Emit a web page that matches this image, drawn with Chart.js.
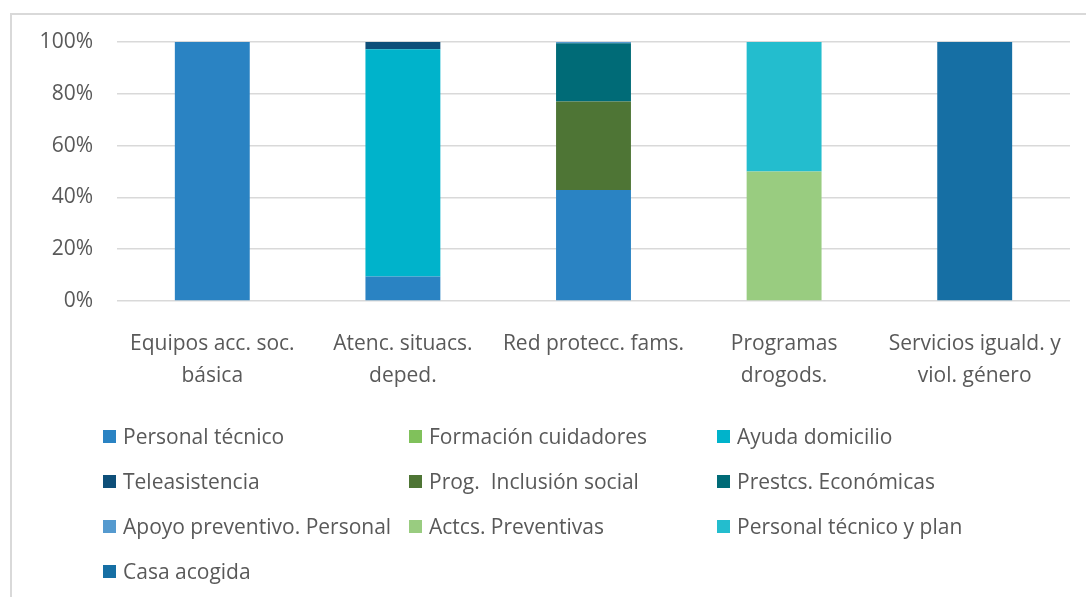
<!DOCTYPE html>
<html>
<head>
<meta charset="utf-8">
<script src="https://cdn.jsdelivr.net/npm/chart.js@4.4.1/dist/chart.umd.min.js"></script>
<style>
  html, body { margin: 0; padding: 0; background: #ffffff; }
  #wrap { position: relative; width: 1086px; height: 597px; overflow: hidden; }
  #frame { position: absolute; left: 10px; top: 13px; width: 1100px; height: 620px;
           border-left: 2px solid #d9d9d9; border-top: 2px solid #d9d9d9; box-sizing: border-box; }
  #c { position: absolute; left: 0; top: 0; }
  #legend { position: absolute; left: 0; top: 0; width: 1086px; height: 597px; pointer-events: none;
            font-family: "Open Sans", sans-serif; font-size: 21px; color: #595959; }
  .item { position: absolute; height: 32px; display: flex; align-items: center; white-space: pre; }
  .sw { width: 13px; height: 13px; margin-right: 7px; flex: none; }
</style>
</head>
<body>
<div id="wrap">
  <div id="frame"></div>
  <canvas id="c" width="1086" height="597"></canvas>
  <div id="legend"></div>
</div>
<script>
const categories = [
  ["Equipos acc. soc.", "básica"],
  ["Atenc. situacs.", "deped."],
  "Red protecc. fams.",
  ["Programas", "drogods."],
  ["Servicios iguald. y", "viol. género"]
];
const seriesNames = [
  "Personal técnico", "Formación cuidadores", "Ayuda domicilio",
  "Teleasistencia", "Prog.  Inclusión social", "Prestcs. Económicas",
  "Apoyo preventivo. Personal", "Actcs. Preventivas", "Personal técnico y plan",
  "Casa acogida"
];
const personalTecnico      = [100, 9.5, 42.9, 0, 0];
const formacionCuidadores  = [0, 0, 0, 0, 0];
const ayudaDomicilio       = [0, 87.7, 0, 0, 0];
const teleasistencia       = [0, 2.8, 0, 0, 0];
const progInclusionSocial  = [0, 0, 34.1, 0, 0];
const prestcsEconomicas    = [0, 0, 22.5, 0, 0];
const apoyoPreventivo      = [0, 0, 0.5, 0, 0];
const actcsPreventivas     = [0, 0, 0, 50, 0];
const personalTecnicoPlan  = [0, 0, 0, 50, 0];
const casaAcogida          = [0, 0, 0, 0, 100];
const yTicks = [0, 20, 40, 60, 80, 100];

const seriesValues = [personalTecnico, formacionCuidadores, ayudaDomicilio, teleasistencia,
  progInclusionSocial, prestcsEconomicas, apoyoPreventivo, actcsPreventivas,
  personalTecnicoPlan, casaAcogida];
const colors = ["#2A83C3", "#80C15B", "#00B3CB", "#0E4F79", "#4E7535", "#006B77",
  "#559ACF", "#99CC80", "#23BDCE", "#166FA4"];

const FONT = "'Open Sans', sans-serif";
const TXT = "#595959";

const datasets = seriesNames.map((n, i) => ({
  label: n,
  data: seriesValues[i],
  backgroundColor: colors[i],
  borderWidth: 0,
  stack: "s",
  barPercentage: 0.393,
  categoryPercentage: 1.0
}));

new Chart(document.getElementById("c"), {
  type: "bar",
  data: { labels: categories, datasets },
  options: {
    responsive: false,
    animation: false,
    layout: { padding: { top: 42, right: 16, left: 0, bottom: 0 } },
    plugins: { legend: { display: false }, tooltip: { enabled: false } },
    scales: {
      x: {
        stacked: true,
        grid: { display: false },
        border: { display: false },
        ticks: { color: TXT, font: { family: FONT, size: 21, lineHeight: "32px" }, padding: 19, maxRotation: 0, autoSkip: false },
        afterFit: (s) => { s.height = 296; }
      },
      y: {
        stacked: true,
        min: 0, max: 100,
        afterBuildTicks: (s) => { s.ticks = yTicks.map(v => ({ value: v })); },
        grid: { color: "#d9d9d9", lineWidth: 1.5, drawTicks: false },
        border: { display: false },
        ticks: { color: TXT, font: { family: FONT, size: 21 }, padding: 24, callback: (v) => v + "%" },
        afterFit: (s) => { s.width = 117; }
      }
    }
  }
});

// legend (3 columns), built from the series names and colours
const legend = document.getElementById("legend");
const colX = [103, 409, 717];
const rowY = [436, 481, 526, 571];
seriesNames.forEach((n, i) => {
  const d = document.createElement("div");
  d.className = "item";
  d.style.left = colX[i % 3] + "px";
  d.style.top = (rowY[Math.floor(i / 3)] - 16) + "px";
  const sw = document.createElement("span");
  sw.className = "sw";
  sw.style.background = colors[i];
  const t = document.createElement("span");
  t.textContent = n;
  d.appendChild(sw); d.appendChild(t);
  legend.appendChild(d);
});
</script>
</body>
</html>
